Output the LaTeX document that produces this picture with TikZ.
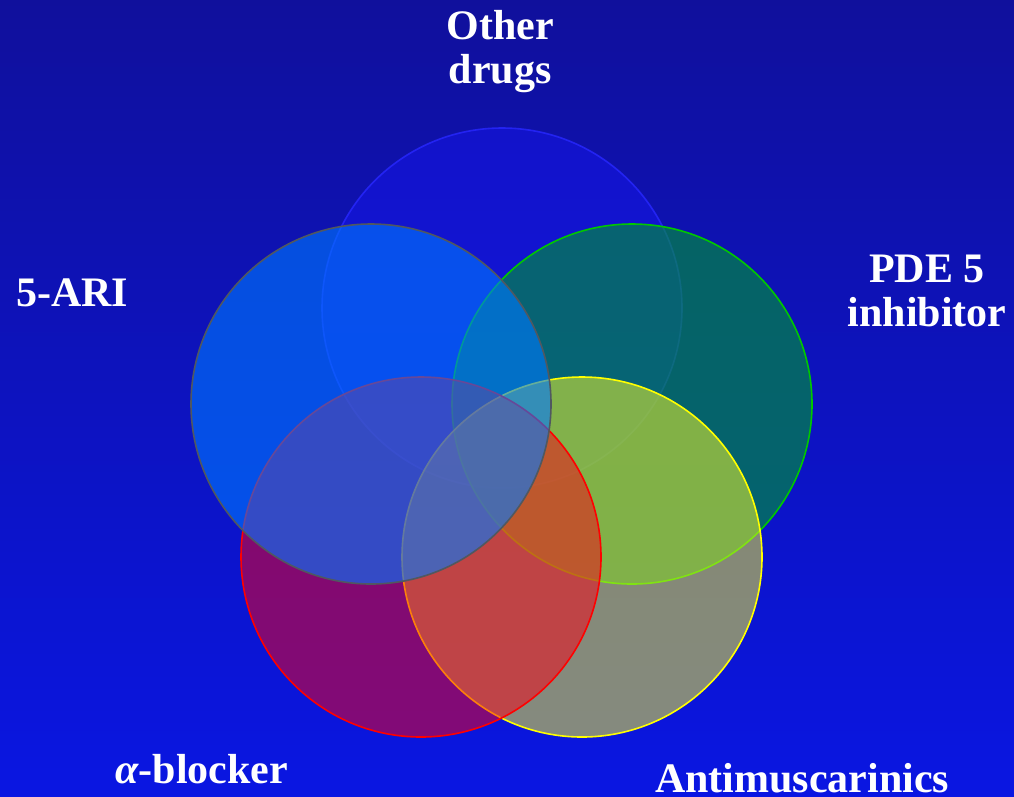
\documentclass[tikz,border=0pt]{standalone}
\usepackage{fontspec}
\setmainfont{Liberation Serif}
\begin{document}
\begin{tikzpicture}[x=1pt,y=-1pt,
  venn/.style={circle,inner sep=0pt,outer sep=0pt,minimum size=360pt,line width=1.6pt},
  lbl/.style={text=white,font=\fontsize{42}{44}\selectfont\bfseries,inner sep=0pt,anchor=base,align=center}]
\definecolor{bgtop}{RGB}{16,16,156}
\definecolor{bgbot}{RGB}{10,22,226}
\definecolor{otherfill}{RGB}{24,24,255}
\definecolor{otherline}{RGB}{40,40,255}
\definecolor{pdefill}{RGB}{0,153,51}
\definecolor{pdeline}{RGB}{0,200,0}
\definecolor{antifill}{RGB}{255,255,34}
\definecolor{antiline}{RGB}{255,255,0}
\definecolor{alphafill}{RGB}{250,0,20}
\definecolor{alphaline}{RGB}{255,0,0}
\definecolor{arifill}{RGB}{0,120,255}
\definecolor{ariline}{RGB}{80,88,96}
\useasboundingbox (0,0) rectangle (1014,796);
\shade[top color=bgtop,bottom color=bgbot] (0,0) rectangle (1014,796);
\node[venn,draw=otherline,fill=otherfill,fill opacity=0.4,draw opacity=0.8] (other) at (502,308) {};
\node[venn,draw=pdeline,fill=pdefill,fill opacity=0.6] (pde) at (632,404) {};
\node[venn,draw=antiline,fill=antifill,fill opacity=0.5] (anti) at (582,557) {};
\node[venn,draw=alphaline,fill=alphafill,fill opacity=0.5] (alpha) at (421,557) {};
\node[venn,draw=ariline,fill=arifill,fill opacity=0.6] (ari) at (371,404) {};
\node[lbl] (tother) at (500,83) {Other\\drugs};
\node[lbl,anchor=base west] (tari) at (16,306) {5-ARI};
\node[lbl] (tpde) at (927,326) {PDE 5\\inhibitor};
\node[lbl,anchor=base west] (talpha) at (115,783) {\textit{α}-blocker};
\node[lbl,anchor=base west,text depth=0pt] (tanti) at (655,792) {Antimuscarinics};
\end{tikzpicture}
\end{document}
